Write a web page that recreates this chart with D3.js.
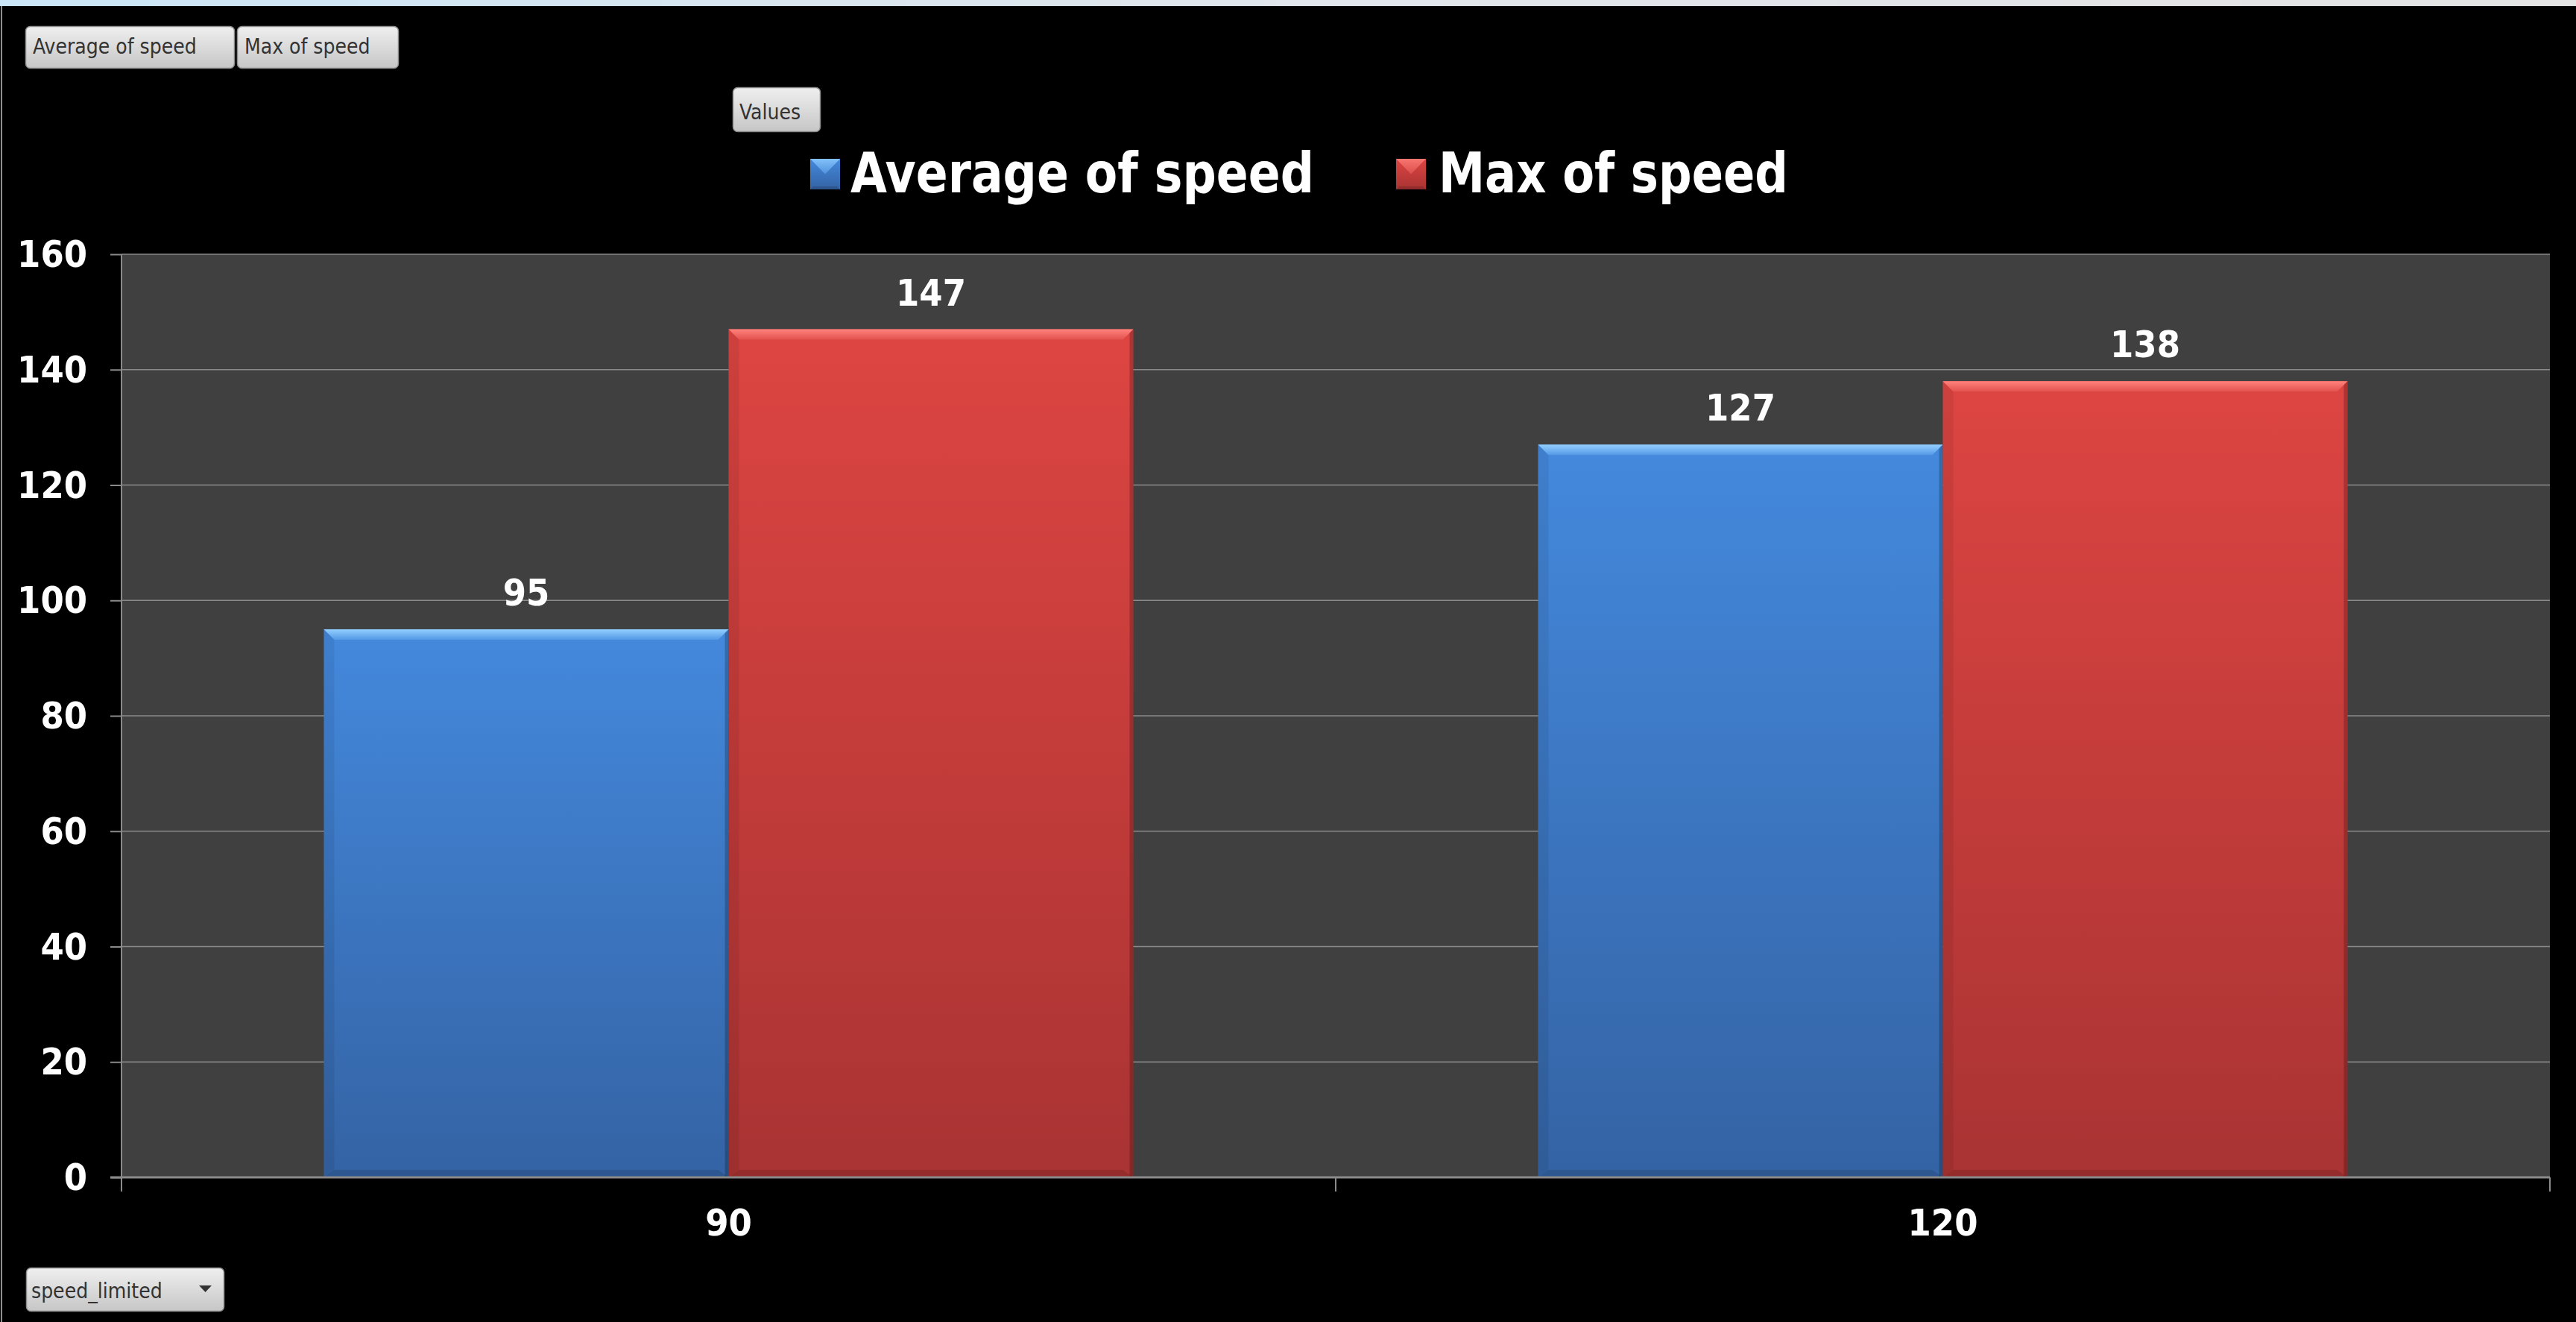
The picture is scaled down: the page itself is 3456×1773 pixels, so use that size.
<!DOCTYPE html>
<html>
<head>
<meta charset="utf-8">
<script src="https://cdn.jsdelivr.net/npm/d3@7"></script>
<style>
html,body{margin:0;padding:0;background:#000;overflow:hidden;}
svg{display:block;}
</style>
</head>
<body>
<script>
// ---- data ----
const categories = ["90", "120"];
const seriesNames = ["Average of speed", "Max of speed"];
const averageOfSpeed = [95, 127];
const maxOfSpeed = [147, 138];
const yTicks = [0, 20, 40, 60, 80, 100, 120, 140, 160];
const seriesValues = [averageOfSpeed, maxOfSpeed];

const W = 3456, H = 1773;
const margin = {left: 163, right: 35, top: 341, bottom: 194};
const FONT = "'DejaVu Sans Condensed', 'DejaVu Sans', sans-serif";

const svg = d3.select("body").append("svg").attr("width", W).attr("height", H);
const defs = svg.append("defs");

// gradients
function vgrad(id, stops) {
  const g = defs.append("linearGradient").attr("id", id).attr("x1", 0).attr("y1", 0).attr("x2", 0).attr("y2", 1);
  stops.forEach(s => g.append("stop").attr("offset", s[0]).attr("stop-color", s[1]));
}
vgrad("gBlue", [[0, "#4489dd"], [1, "#3463a4"]]);
vgrad("gRed", [[0, "#dd4542"], [1, "#a93333"]]);
vgrad("gBlueTop", [[0, "#93cfff"], [1, "#5499e6"]]);
vgrad("gRedTop", [[0, "#ff827c"], [1, "#e2524e"]]);
vgrad("gBtn", [[0, "#efefef"], [1, "#c6c6c6"]]);
const hg = defs.append("linearGradient").attr("id", "gStripe").attr("x1", 0).attr("x2", 1).attr("y1", 0).attr("y2", 0);
hg.append("stop").attr("offset", 0).attr("stop-color", "#cbe6f7");
hg.append("stop").attr("offset", 0.45).attr("stop-color", "#dfe6ec");
hg.append("stop").attr("offset", 1).attr("stop-color", "#e3e3e3");
const fills = ["url(#gBlue)", "url(#gRed)"];
const topFills = ["url(#gBlueTop)", "url(#gRedTop)"];

// background
svg.append("rect").attr("width", W).attr("height", H).attr("fill", "#000");
svg.append("rect").attr("x", 0).attr("y", 0).attr("width", W).attr("height", 8).attr("fill", "url(#gStripe)");
svg.append("rect").attr("x", 1).attr("y", 8).attr("width", 2).attr("height", H - 8).attr("fill", "#8f8f8f");

// scales
const x0 = d3.scaleBand().domain(categories).range([margin.left, W - margin.right]).padding(0);
const x1 = d3.scaleBand().domain(seriesNames).range([0, x0.bandwidth()]).paddingInner(0).paddingOuter(0.5);
const y = d3.scaleLinear().domain([0, 160]).range([H - margin.bottom, margin.top]);

// plot background
svg.append("rect").attr("x", margin.left).attr("y", margin.top)
  .attr("width", W - margin.right - margin.left).attr("height", y(0) - margin.top).attr("fill", "#404040");

// gridlines
svg.append("g").selectAll("line").data(yTicks.filter(d => d > 0)).join("line")
  .attr("x1", margin.left).attr("x2", W - margin.right)
  .attr("y1", d => y(d)).attr("y2", d => y(d))
  .attr("stroke", "#8a8a8a").attr("stroke-width", 1.5);

// bars
const rows = [];
categories.forEach((c, i) => seriesNames.forEach((s, j) => rows.push({c, s, j, v: seriesValues[j][i]})));
const bars = svg.append("g").selectAll("g").data(rows).join("g");
bars.each(function(d) {
  const g = d3.select(this);
  const bx = x0(d.c) + x1(d.s), bw = x1.bandwidth();
  const top = y(d.v), bot = y(0);
  const b = 14;
  g.append("rect").attr("x", bx).attr("y", top).attr("width", bw).attr("height", bot - top).attr("fill", fills[d.j]);
  // left shading
  g.append("path").attr("d", `M${bx},${top}L${bx + b},${top + b}L${bx + b},${bot - 10}L${bx},${bot}Z`)
    .attr("fill", "#000").attr("opacity", 0.07);
  // bottom shading
  g.append("path").attr("d", `M${bx},${bot}L${bx + b},${bot - 10}L${bx + bw - b},${bot - 10}L${bx + bw},${bot}Z`)
    .attr("fill", "#000").attr("opacity", 0.12);
  // right shadow
  g.append("rect").attr("x", bx + bw - 5).attr("y", top).attr("width", 5).attr("height", bot - top)
    .attr("fill", "#000").attr("opacity", 0.22);
  // top bevel
  g.append("path").attr("d", `M${bx},${top}L${bx + bw},${top}L${bx + bw - b},${top + b}L${bx + b},${top + b}Z`)
    .attr("fill", topFills[d.j]);
  // value label
  g.append("text").attr("x", bx + bw / 2).attr("y", top - 32).attr("text-anchor", "middle")
    .attr("font-family", FONT).attr("font-weight", "bold").attr("font-size", 50).attr("fill", "#fff")
    .text(d.v);
});

// y axis
const yAxis = d3.axisLeft(y).tickValues(yTicks).tickSize(15).tickPadding(31).tickFormat(d3.format("d"));
const ya = svg.append("g").attr("transform", `translate(${margin.left},0)`).call(yAxis);
ya.select(".domain").remove();
ya.selectAll(".tick line").attr("stroke", "#8a8a8a").attr("stroke-width", 2);
ya.selectAll(".tick text").attr("fill", "#fff").attr("font-family", FONT).attr("font-weight", "bold")
  .attr("font-size", 50).attr("dy", "0.33em");
svg.append("line").attr("x1", margin.left).attr("x2", margin.left).attr("y1", margin.top).attr("y2", y(0) + 19)
  .attr("stroke", "#8a8a8a").attr("stroke-width", 2);

// x axis
const xAxis = d3.axisBottom(x0).tickSize(0).tickPadding(48);
const xa = svg.append("g").attr("transform", `translate(0,${y(0)})`).call(xAxis);
xa.select(".domain").remove();
xa.selectAll(".tick text").attr("fill", "#fff").attr("font-family", FONT).attr("font-weight", "bold")
  .attr("font-size", 50).attr("dy", "0.6em");
svg.append("line").attr("x1", margin.left - 15).attr("x2", W - margin.right).attr("y1", y(0)).attr("y2", y(0))
  .attr("stroke", "#8a8a8a").attr("stroke-width", 3);
const boundaries = categories.map(c => x0(c)).concat([x0.range()[1]]).slice(1);
svg.append("g").selectAll("line").data(boundaries).join("line")
  .attr("x1", d => d).attr("x2", d => d).attr("y1", y(0)).attr("y2", y(0) + 19)
  .attr("stroke", "#8a8a8a").attr("stroke-width", 2);

// legend
const legendItems = [
  {name: seriesNames[0], mx: 1087, tx: 1141, tw: 622},
  {name: seriesNames[1], mx: 1873, tx: 1930, tw: 469}
];
legendItems.forEach((it, j) => {
  const mx = it.mx, my = 213, ms = 40, mh = 41;
  svg.append("rect").attr("x", mx).attr("y", my).attr("width", ms).attr("height", mh).attr("fill", fills[j]);
  svg.append("path").attr("d", `M${mx},${my}L${mx + ms},${my}L${mx + ms / 2},${my + mh / 2}Z`).attr("fill", topFills[j]).attr("opacity", 0.8);
  svg.append("path").attr("d", `M${mx},${my + mh}L${mx + 4},${my + mh - 4}L${mx + ms - 4},${my + mh - 4}L${mx + ms},${my + mh}Z`).attr("fill", "#000").attr("opacity", 0.15);
  svg.append("text").attr("x", it.tx).attr("y", 258)
    .attr("font-family", FONT).attr("font-weight", "bold").attr("font-size", 75).attr("fill", "#fff")
    .attr("textLength", it.tw).attr("lengthAdjust", "spacingAndGlyphs").text(it.name);
});

// field buttons
function button(x, yy, w, h, label, tx, ty) {
  svg.append("rect").attr("x", x + 0.5).attr("y", yy + 0.5).attr("width", w).attr("height", h).attr("rx", 6)
    .attr("fill", "url(#gBtn)").attr("stroke", "#8c8c8c").attr("stroke-width", 1.5);
  svg.append("text").attr("x", tx).attr("y", ty).attr("font-family", FONT).attr("font-size", 28)
    .attr("fill", "#333").text(label);
}
button(34, 35, 280, 56, seriesNames[0], 44, 72);
button(318, 35, 216, 56, seriesNames[1], 328, 72);
button(983, 117, 117, 59, "Values", 992, 160);
button(35, 1700, 265, 58, "speed_limited", 42, 1741);
svg.append("path").attr("d", "M267,1724L284,1724L275.5,1733Z").attr("fill", "#333");
</script>
</body>
</html>
